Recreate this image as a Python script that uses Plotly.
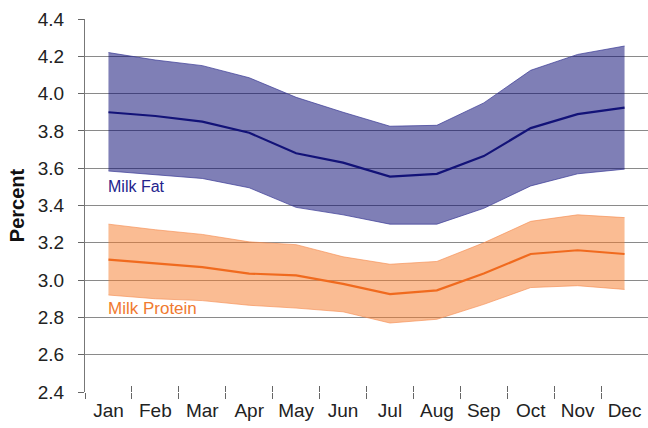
import plotly.graph_objects as go

months = ['Jan', 'Feb', 'Mar', 'Apr', 'May', 'Jun',
          'Jul', 'Aug', 'Sep', 'Oct', 'Nov', 'Dec']

# milk fat (%)
fat_mean = [3.90, 3.88, 3.85, 3.79, 3.68, 3.63, 3.555, 3.57, 3.665, 3.815, 3.89, 3.925]
fat_high = [4.22, 4.18, 4.15, 4.085, 3.98, 3.90, 3.825, 3.83, 3.95, 4.125, 4.21, 4.255]
fat_low = [3.585, 3.565, 3.545, 3.495, 3.39, 3.35, 3.30, 3.30, 3.385, 3.505, 3.57, 3.595]

# milk protein (%)
prot_mean = [3.11, 3.09, 3.07, 3.035, 3.025, 2.98, 2.925, 2.945, 3.035, 3.14, 3.16, 3.14]
prot_high = [3.30, 3.27, 3.245, 3.205, 3.19, 3.125, 3.085, 3.10, 3.20, 3.315, 3.35, 3.335]
prot_low = [2.92, 2.90, 2.89, 2.865, 2.85, 2.83, 2.77, 2.79, 2.87, 2.96, 2.97, 2.95]

y_ticks = [2.4, 2.6, 2.8, 3.0, 3.2, 3.4, 3.6, 3.8, 4.0, 4.2, 4.4]

font = 'Liberation Sans, Arial, sans-serif'

fig = go.Figure()


def add_band(high, low, mean, fill, edge, line, mean_axis='x'):
    fig.add_trace(go.Scatter(x=months, y=high, mode='lines',
                             line=dict(color=edge, width=0.8),
                             hoverinfo='skip', showlegend=False))
    fig.add_trace(go.Scatter(x=months, y=low, mode='lines', fill='tonexty',
                             fillcolor=fill, line=dict(color=edge, width=0.8),
                             hoverinfo='skip', showlegend=False))
    fig.add_trace(go.Scatter(x=months, y=mean, mode='lines', xaxis=mean_axis,
                             line=dict(color=line, width=2.2),
                             showlegend=False))


add_band(fat_high, fat_low, fat_mean,
         'rgba(0,0,110,0.5)', 'rgba(60,60,150,0.9)', '#121278')
# protein mean sits on the overlay axis (same scale) so its ticks get drawn
add_band(prot_high, prot_low, prot_mean,
         'rgba(245,122,40,0.5)', 'rgba(245,140,80,0.8)', '#F06A1E', 'x2')

fig.add_annotation(x=0, y=3.5, xref='x', yref='y', text='Milk Fat',
                   showarrow=False, xanchor='left', xshift=-2,
                   font=dict(family=font, size=16, color='#23238C'))
fig.add_annotation(x=0, y=2.85, xref='x', yref='y', text='Milk Protein',
                   showarrow=False, xanchor='left', xshift=-2,
                   font=dict(family=font, size=17, color='#F07A30'))

fig.update_layout(
    width=648, height=428,
    margin=dict(l=85, r=0, t=19, b=36, autoexpand=False),
    plot_bgcolor='white', paper_bgcolor='white',
    font=dict(family=font, size=19, color='#222222'),
    xaxis=dict(
        type='category', range=[-0.5, 11.5],
        tickson='boundaries', ticks='outside', ticklen=6,
        tickcolor='#666666', ticklabelstandoff=5,
        showgrid=False, showline=False, zeroline=False,
        fixedrange=True
    ),
    # overlay axis: upper half of the tick marks that cross the x axis
    xaxis2=dict(
        type='category', overlaying='x', side='bottom',
        range=[-0.5, 11.5], tickson='boundaries',
        ticks='inside', ticklen=6, tickcolor='#666666',
        showticklabels=False, showgrid=False, showline=False,
        zeroline=False, fixedrange=True
    ),
    yaxis=dict(
        range=[2.4, 4.4], tickvals=y_ticks,
        ticktext=['{:.1f}'.format(v) for v in y_ticks],
        ticks='outside', ticklen=6, tickcolor='#666666',
        ticklabelstandoff=10,
        showgrid=True, gridcolor='#8a8a8a', gridwidth=1,
        showline=True, linecolor='#777777', linewidth=1,
        zeroline=False,
        title=dict(text='<b>Percent</b>', standoff=7,
                   font=dict(family=font, size=20, color='#111111'))
    )
)

# drop the default page margin so the figure fills the window
fig.write_html('out.html',
               config={'displayModeBar': False},
               post_script="document.body.style.margin='0';"
                           "document.body.style.overflow='hidden';")
